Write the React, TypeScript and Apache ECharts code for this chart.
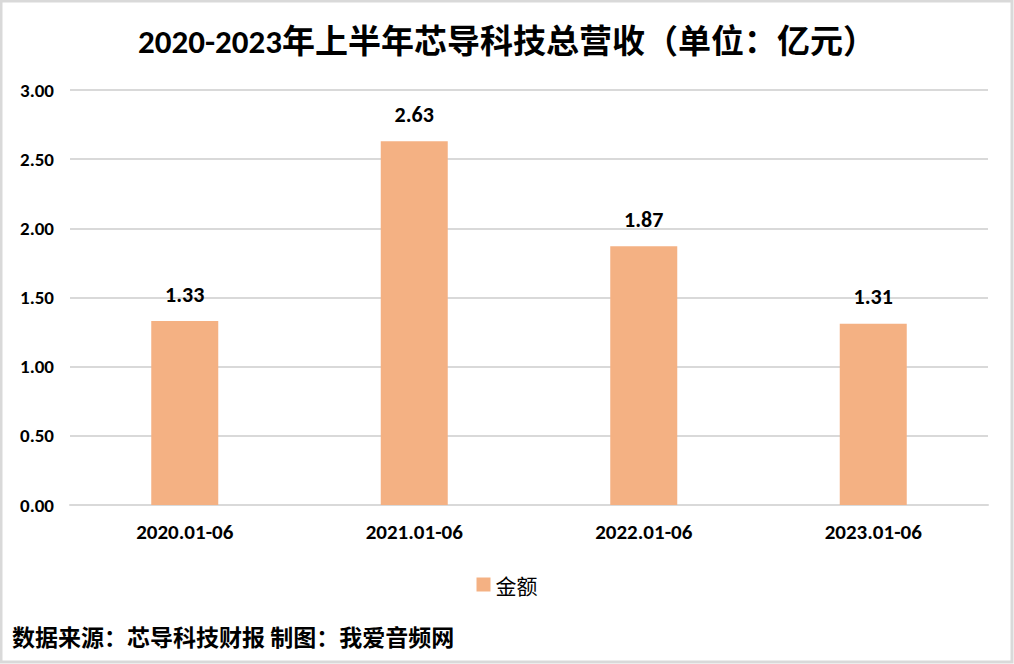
import React, { useEffect, useRef } from "react";
import * as echarts from "echarts";

const titleText = "2020-2023年上半年芯导科技总营收（单位：亿元）";
const categories = ["2020.01-06", "2021.01-06", "2022.01-06", "2023.01-06"];
const seriesName = "金额";
const values = [1.33, 2.63, 1.87, 1.31];
const footerText = "数据来源：芯导科技财报 制图：我爱音频网";

const FONT = "Carlito, Calibri, 'Noto Sans CJK SC', sans-serif";
const CJK = "'Noto Sans CJK SC', sans-serif";

export default function App() {
  const ref = useRef<HTMLDivElement>(null);
  useEffect(() => {
    document.body.style.margin = "0";
    const chart = echarts.init(ref.current!, undefined, { renderer: "svg" });
    chart.setOption({
      animation: false,
      backgroundColor: "#ffffff",
      title: {
        text: titleText,
        left: "center",
        top: 16,
        textStyle: { fontFamily: FONT, fontSize: 33, fontWeight: "bold", color: "#000", lineHeight: 42 },
      },
      grid: { left: 70, right: 26, top: 90, bottom: 159, containLabel: false },
      legend: {
        data: [seriesName],
        top: 569,
        left: "center",
        itemWidth: 14,
        itemHeight: 14,
        itemGap: 8,
        icon: "rect",
        textStyle: { fontFamily: CJK, fontSize: 21, color: "#000" },
      },
      xAxis: {
        type: "category",
        data: categories,
        axisLine: { show: true, lineStyle: { color: "#d9d9d9", width: 2 } },
        axisTick: { show: false },
        axisLabel: { fontFamily: FONT, fontSize: 21, fontWeight: "bold", color: "#000", margin: 16 },
      },
      yAxis: {
        type: "value",
        min: 0,
        max: 3,
        interval: 0.5,
        axisLine: { show: false },
        axisTick: { show: false },
        splitLine: { lineStyle: { color: "#d9d9d9", width: 2 } },
        axisLabel: {
          fontFamily: FONT,
          fontSize: 19,
          fontWeight: "bold",
          color: "#000",
          margin: 16,
          formatter: (v: number) => v.toFixed(2),
        },
      },
      series: [
        {
          name: seriesName,
          type: "bar",
          data: values,
          barWidth: 67,
          itemStyle: { color: "#F4B183" },
          label: {
            show: true,
            position: "top",
            distance: 16,
            fontFamily: FONT,
            fontSize: 22,
            fontWeight: "bold",
            color: "#000",
            formatter: (p: any) => Number(p.value).toFixed(2),
          },
        },
      ],
      graphic: [
        {
          type: "rect",
          shape: { x: 1, y: 1, width: 1011, height: 661 },
          style: { fill: "none", stroke: "#d9d9d9", lineWidth: 3 },
          silent: true,
        },
        {
          type: "text",
          left: 12,
          top: 624,
          style: { text: footerText, font: `bold 23px ${CJK}`, fill: "#000" },
        },
      ],
    });
    return () => chart.dispose();
  }, []);
  return <div ref={ref} style={{ position: "fixed", left: 0, top: 0, width: 1014, height: 664 }} />;
}
